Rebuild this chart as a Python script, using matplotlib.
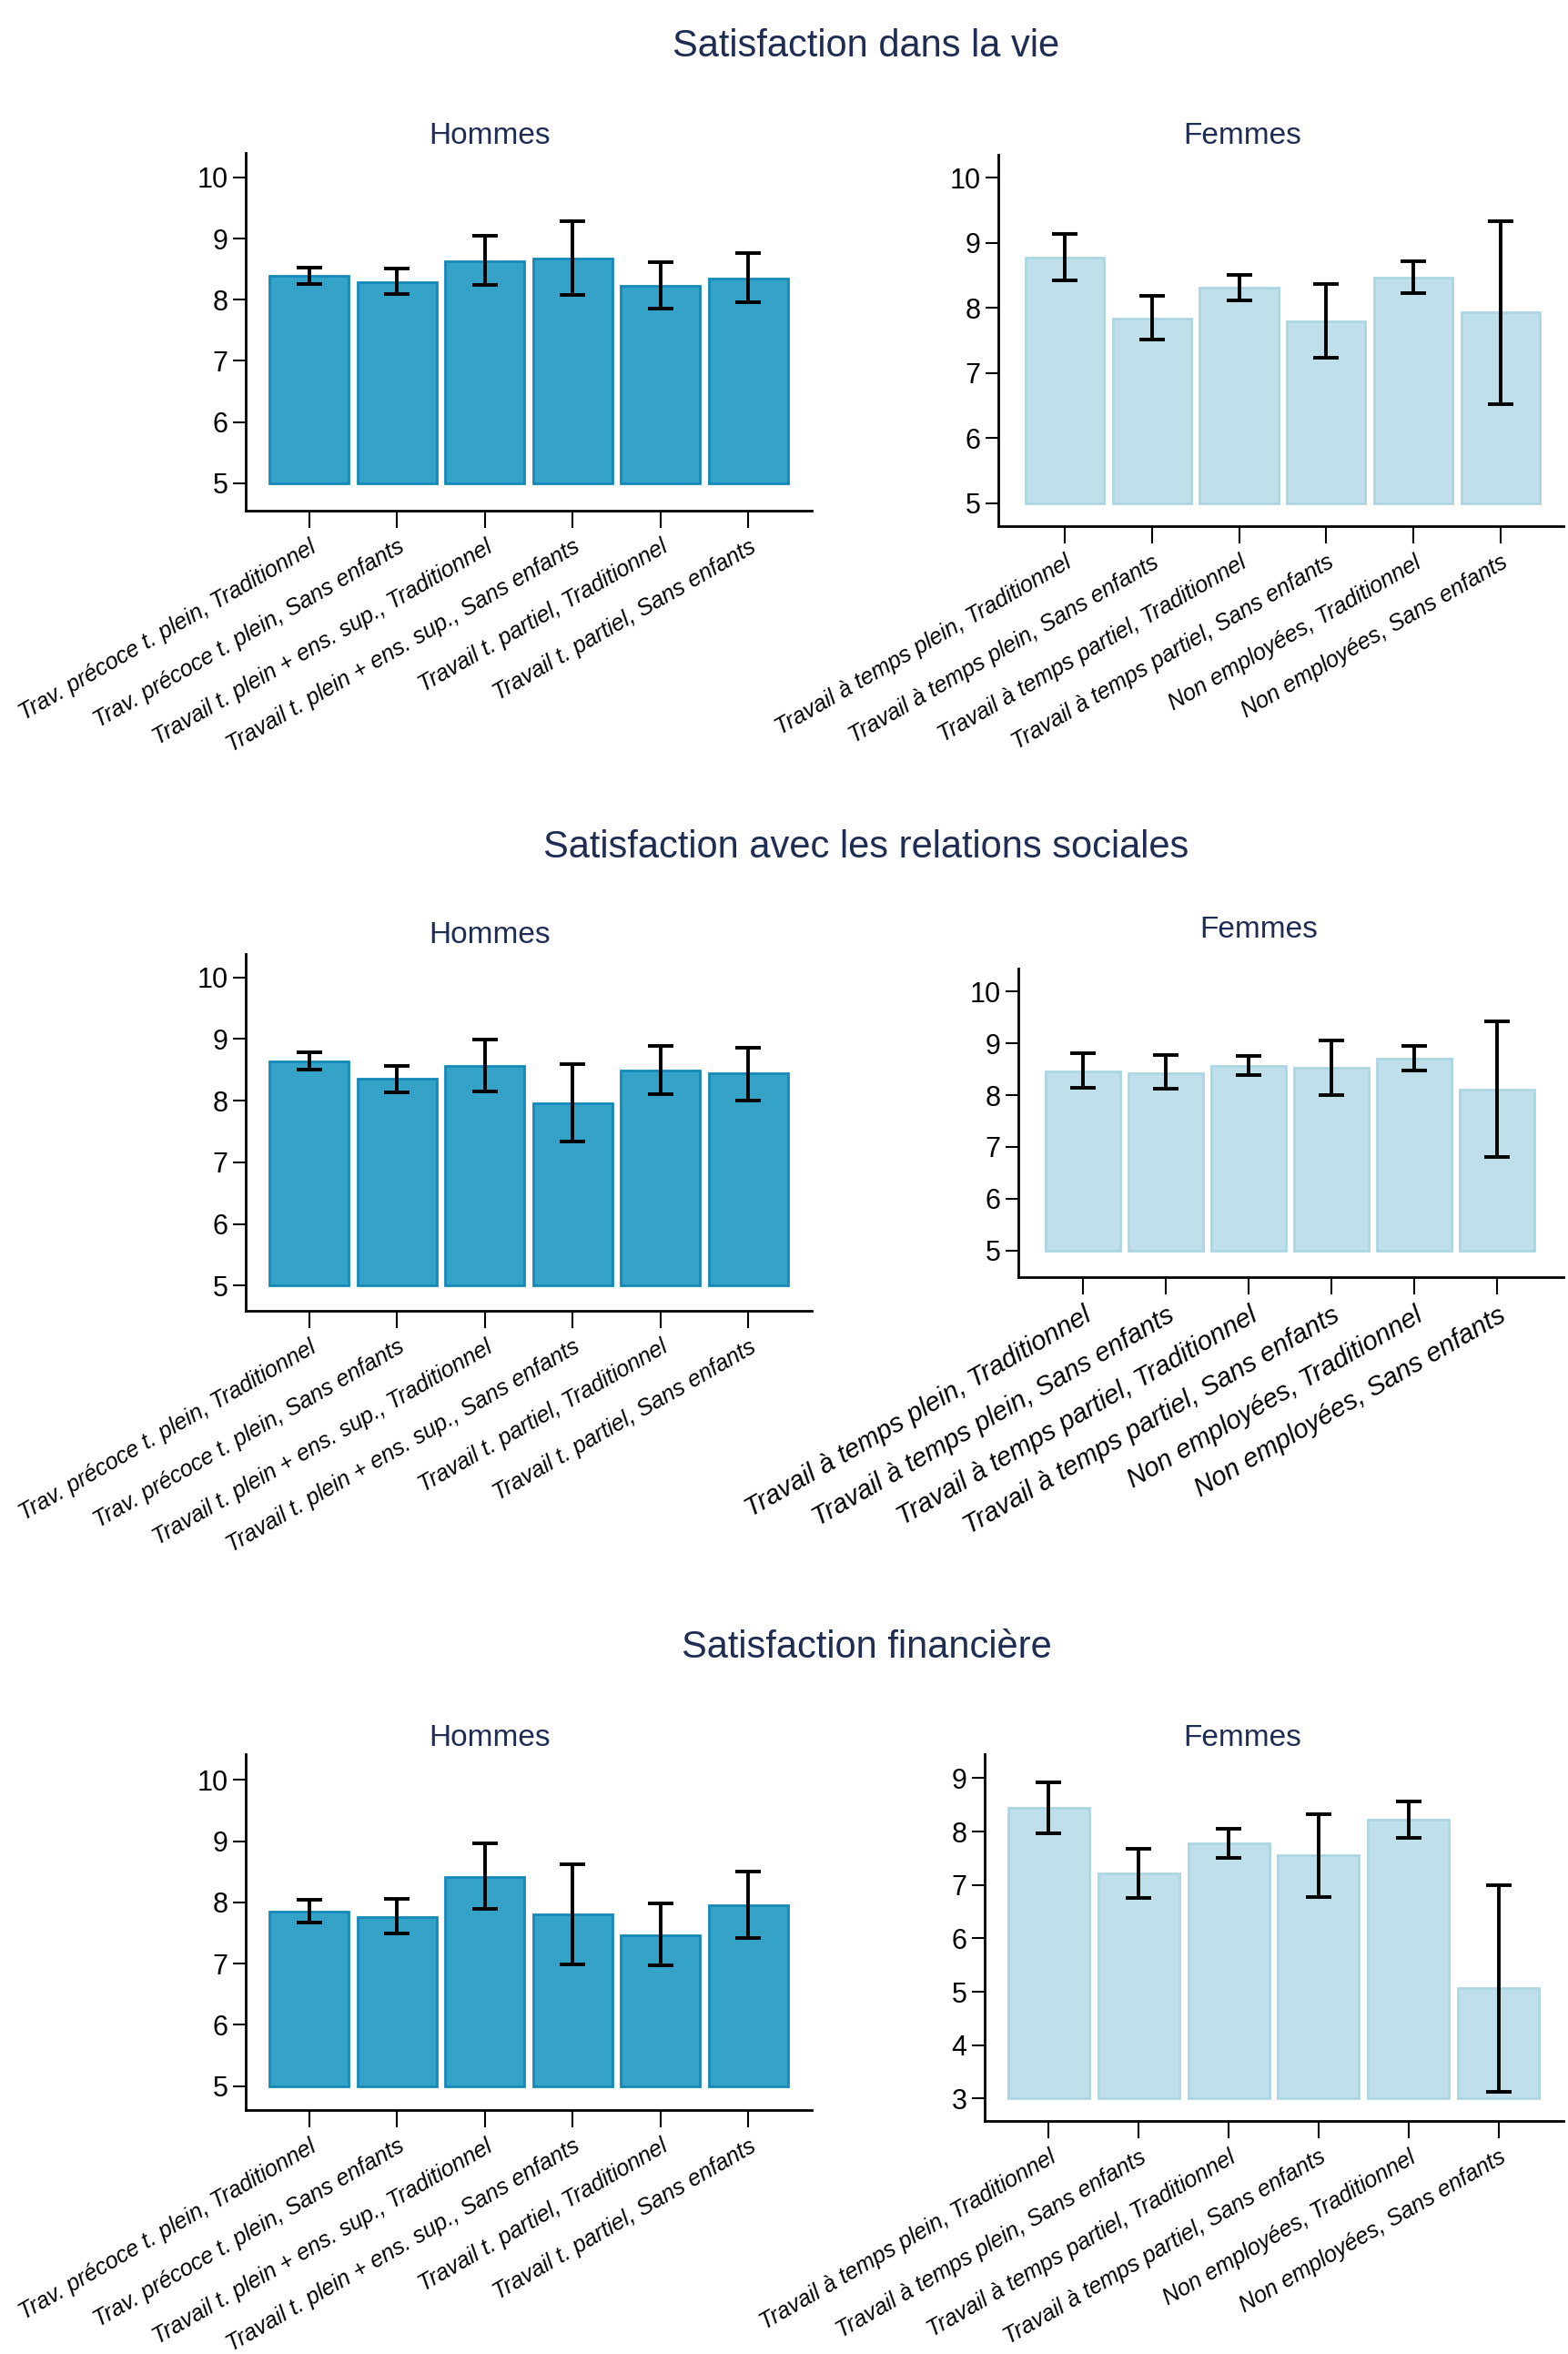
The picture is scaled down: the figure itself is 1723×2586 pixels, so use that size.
import numpy as np
import matplotlib.pyplot as plt

# --- data ---
hommes_labels = [
    "Trav. précoce t. plein, Traditionnel",
    "Trav. précoce t. plein, Sans enfants",
    "Travail t. plein + ens. sup., Traditionnel",
    "Travail t. plein + ens. sup., Sans enfants",
    "Travail t. partiel, Traditionnel",
    "Travail t. partiel, Sans enfants",
]
femmes_labels = [
    "Travail à temps plein, Traditionnel",
    "Travail à temps plein, Sans enfants",
    "Travail à temps partiel, Traditionnel",
    "Travail à temps partiel, Sans enfants",
    "Non employées, Traditionnel",
    "Non employées, Sans enfants",
]

section_titles = [
    "Satisfaction dans la vie",
    "Satisfaction avec les relations sociales",
    "Satisfaction financière",
]

# vie
vie_h_mean = [8.39, 8.29, 8.63, 8.67, 8.23, 8.35]
vie_h_low = [8.26, 8.09, 8.24, 8.08, 7.86, 7.96]
vie_h_high = [8.53, 8.51, 9.04, 9.28, 8.62, 8.77]
vie_f_mean = [8.77, 7.84, 8.31, 7.79, 8.46, 7.93]
vie_f_low = [8.42, 7.51, 8.11, 7.23, 8.22, 6.52]
vie_f_high = [9.13, 8.19, 8.51, 8.36, 8.72, 9.33]

# relations sociales
soc_h_mean = [8.64, 8.35, 8.56, 7.96, 8.49, 8.44]
soc_h_low = [8.51, 8.13, 8.15, 7.34, 8.10, 8.00]
soc_h_high = [8.79, 8.57, 8.99, 8.60, 8.89, 8.86]
soc_f_mean = [8.46, 8.43, 8.57, 8.53, 8.71, 8.10]
soc_f_low = [8.14, 8.12, 8.39, 8.00, 8.48, 6.80]
soc_f_high = [8.80, 8.77, 8.75, 9.06, 8.94, 9.42]

# financiere
fin_h_mean = [7.85, 7.76, 8.41, 7.80, 7.47, 7.96]
fin_h_low = [7.67, 7.49, 7.89, 6.99, 6.97, 7.42]
fin_h_high = [8.04, 8.05, 8.97, 8.62, 7.98, 8.51]
fin_f_mean = [8.44, 7.21, 7.78, 7.55, 8.22, 5.07]
fin_f_low = [7.96, 6.75, 7.51, 6.78, 7.89, 3.13]
fin_f_high = [8.93, 7.68, 8.06, 8.33, 8.56, 7.00]

W, H = 1724, 2586
fig = plt.figure(figsize=(W / 100, H / 100), dpi=100)
plt.rcParams['font.family'] = ['Liberation Sans', 'DejaVu Sans']

NAVY = '#1f2d55'
H_FILL, H_EDGE = '#35a2c8', '#1489b8'
F_FILL, F_EDGE = '#bfe0ea', '#acd6e4'


def box(left, right, top, bottom):
    """pixel box -> figure fraction rect"""
    return [left / W, 1 - bottom / H, (right - left) / W, (bottom - top) / H]


def panel(rect, base, mean, low, high, labels, fill, edge, xlim, ylim, yticks, lab_size):
    ax = fig.add_axes(rect)
    x = np.arange(len(mean))
    mean = np.array(mean)
    ax.bar(x, mean - base, bottom=base, width=0.9, color=fill, edgecolor=edge, linewidth=2)
    yerr = [mean - np.array(low), np.array(high) - mean]
    ax.errorbar(x, mean, yerr=yerr, fmt='none', ecolor='black', elinewidth=2.8,
                capsize=10, capthick=2.8)
    ax.set_xlim(*xlim)
    ax.set_ylim(*ylim)
    ax.set_yticks(yticks)
    ax.set_xticks(x)
    ax.set_xticklabels(labels, rotation=30, ha='right', rotation_mode='anchor',
                       fontsize=lab_size, style='italic')
    ax.tick_params(axis='y', labelsize=22, length=10, width=1.5, pad=4)
    ax.tick_params(axis='x', length=14, width=1.5, pad=6)
    for s in ['top', 'right']:
        ax.spines[s].set_visible(False)
    for s in ['left', 'bottom']:
        ax.spines[s].set_linewidth(2)
    return ax


panel(box(270, 892, 168, 561), 5, vie_h_mean, vie_h_low, vie_h_high, hommes_labels,
      H_FILL, H_EDGE, (-0.72, 5.72), (4.55, 10.4), range(5, 11), 18)
panel(box(1097, 1718, 170, 578), 5, vie_f_mean, vie_f_low, vie_f_high, femmes_labels,
      F_FILL, F_EDGE, (-0.76, 5.72), (4.65, 10.35), range(5, 11), 18)
panel(box(270, 892, 1048, 1440), 5, soc_h_mean, soc_h_low, soc_h_high, hommes_labels,
      H_FILL, H_EDGE, (-0.72, 5.72), (4.59, 10.38), range(5, 11), 18)
panel(box(1119, 1718, 1064, 1403), 5, soc_f_mean, soc_f_low, soc_f_high, femmes_labels,
      F_FILL, F_EDGE, (-0.78, 5.8), (4.49, 10.44), range(5, 11), 21)
panel(box(270, 892, 1927, 2318), 5, fin_h_mean, fin_h_low, fin_h_high, hommes_labels,
      H_FILL, H_EDGE, (-0.72, 5.72), (4.61, 10.42), range(5, 11), 18)
panel(box(1082, 1718, 1927, 2330), 3, fin_f_mean, fin_f_low, fin_f_high, femmes_labels,
      F_FILL, F_EDGE, (-0.71, 5.72), (2.58, 9.45), range(3, 10), 18)

# titles
for t, y in zip(section_titles, [51, 931, 1810]):
    fig.text(952 / W, 1 - y / H, t, ha='center', va='center', fontsize=30, color=NAVY)
for (name, x, y) in [("Hommes", 538, 149), ("Femmes", 1365, 149),
                     ("Hommes", 538, 1028), ("Femmes", 1383, 1021),
                     ("Hommes", 538, 1909), ("Femmes", 1365, 1909)]:
    fig.text(x / W, 1 - y / H, name, ha='center', va='center', fontsize=24, color=NAVY)

fig.savefig('out.png', dpi=100, facecolor='white')
